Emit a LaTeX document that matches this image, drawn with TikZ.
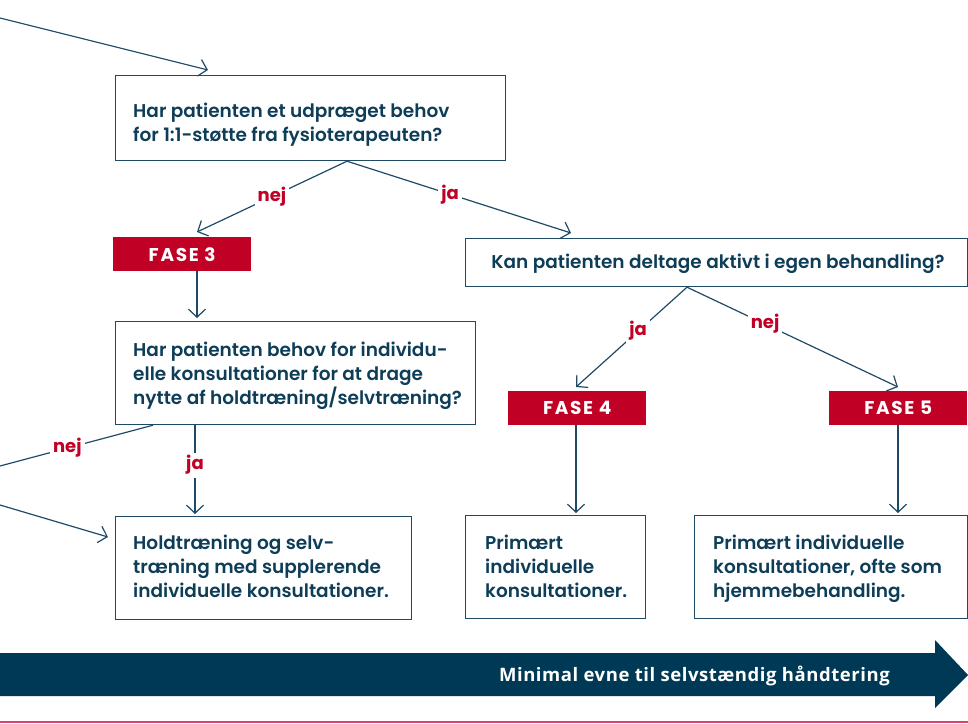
\documentclass[tikz,border=0pt]{standalone}
\usepackage{fontspec}
\setmainfont{Poppins}[BoldFont={* SemiBold}]
\newfontfamily\heavyfont{Poppins}[UprightFont={* Bold}, LetterSpace=9]
\newfontfamily\lblfont{Poppins}[UprightFont={* Bold}]
\newfontfamily\barfont{Open Sans}[LetterSpace=3]
\usetikzlibrary{arrows.meta}
\definecolor{navy}{HTML}{0E3D58}
\definecolor{linec}{HTML}{1F4A66}
\definecolor{fred}{HTML}{C00025}
\definecolor{barc}{HTML}{003955}
\definecolor{pinkc}{HTML}{D9426A}
\begin{document}
\begin{tikzpicture}[x=1pt,y=-1pt,
  box/.style={draw=linec, line width=1.2pt, anchor=north west, inner sep=0pt},
  txt/.style={anchor=base west, inner sep=0pt, align=left, text=navy, font=\bfseries\fontsize{18.5}{24}\selectfont},
  fase/.style={fill=fred, text=white, anchor=north west, inner sep=0pt, font=\heavyfont\fontsize{18.5}{20}\selectfont, minimum width=138pt, minimum height=34pt},
  lbl/.style={text=fred, fill=white, inner sep=3pt, font=\lblfont\fontsize{18}{20}\selectfont},
  conn/.style={draw=linec, line width=1.2pt, -{Straight Barb[length=8pt,width=17pt]}},
]
\useasboundingbox (0,0) rectangle (968,723);

% multi-line text nodes: base anchor = baseline of the last line
\node[box, minimum width=390pt, minimum height=85pt] (b1) at (115,75) {};
\node[txt] (t1) at (133,141) {Har patienten et udpræget behov\\ for 1:1-støtte fra fysioterapeuten?};
\node[fase] (f3) at (113,237) {FASE 3};
\node[box, minimum width=360pt, minimum height=103pt] (b2) at (115,321) {};
\node[txt] (t2) at (133,404) {Har patienten behov for individu-\\ elle konsultationer for at drage\\ nytte af holdtræning/selvtræning?};
\node[box, minimum width=296pt, minimum height=103pt] (b3) at (115,516) {};
\node[txt] (t3) at (133,597) {Holdtræning og selv-\\ træning med supplerende\\ individuelle konsultationer.};
\node[box, minimum width=502pt, minimum height=48pt] (k) at (465,238) {};
\node[txt, anchor=base] (tk) at (718,268) {Kan patienten deltage aktivt i egen behandling?};
\node[fase] (f4) at (508,391) {FASE 4};
\node[fase] (f5) at (829,391) {FASE 5};
\node[box, minimum width=180pt, minimum height=103pt] (b5) at (465,515) {};
\node[txt] (t5) at (485,597) {Primært\\ individuelle\\ konsultationer.};
\node[box, minimum width=273pt, minimum height=103pt] (b6) at (694,515) {};
\node[txt] (t6) at (713,597) {Primært individuelle\\ konsultationer, ofte som\\ hjemmebehandling.};

\coordinate (start) at (0,18);
\coordinate (nejend) at (0,466);
\coordinate (in3) at (0,505);

\draw[conn] (start) -- ([xshift=93pt,yshift=5pt]b1.north west);
\draw[conn] ([xshift=232pt]b1.south west) -- node[lbl]{nej} ([xshift=84pt,yshift=5pt]f3.north west);
\draw[conn] ([xshift=232pt]b1.south west) -- node[lbl,pos=0.46]{ja} ([xshift=106pt,yshift=5pt]k.north west);
\draw[conn] ([xshift=84pt]f3.south west) -- ([xshift=82pt,yshift=3pt]b2.north west);
\draw[conn] ([xshift=80pt]b2.south west) -- node[lbl,pos=0.45]{ja} ([xshift=80pt,yshift=2pt]b3.north west);
\draw[linec, line width=1.2pt] ([xshift=38pt]b2.south west) -- node[lbl,pos=0.56]{nej} (nejend);
\draw[conn] (in3) -- ([xshift=-7pt,yshift=-21pt]b3.north west);
\draw[conn] ([xshift=222pt]k.south west) -- node[lbl,pos=0.44]{ja} ([xshift=68pt,yshift=4pt]f4.north west);
\draw[conn] ([xshift=222pt]k.south west) -- node[lbl,pos=0.37]{nej} ([xshift=69pt,yshift=4pt]f5.north west);
\draw[conn] ([xshift=68pt]f4.south west) -- ([xshift=111pt,yshift=2pt]b5.north west);
\draw[conn] ([xshift=69pt]f5.south west) -- ([xshift=204pt,yshift=2pt]b6.north west);

\fill[barc] (0,653) -- (935,653) -- (935,640) -- (968,675) -- (935,708) -- (935,696) -- (0,696) -- cycle;
\node[anchor=base east, text=white, inner sep=0pt, font=\barfont\bfseries\fontsize{18.5}{20}\selectfont] (bartext) at (890,681) {Minimal evne til selvstændig håndtering};
\draw[pinkc, line width=1.5pt] (0,722) -- (968,722);
\end{tikzpicture}
\end{document}
